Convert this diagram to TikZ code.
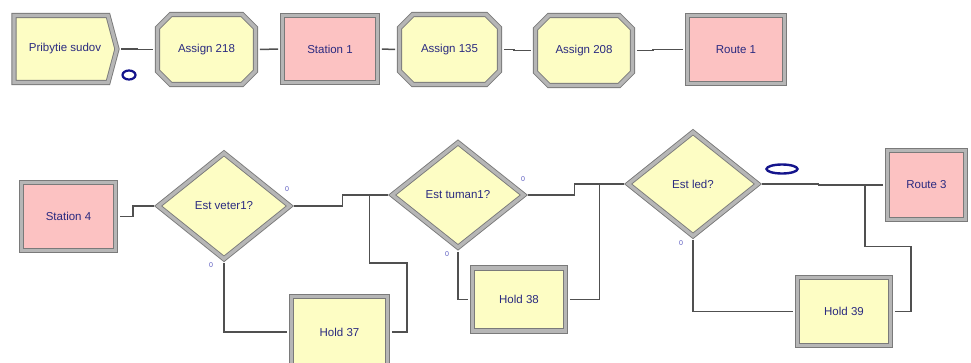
\documentclass[tikz,border=0pt]{standalone}
\usepackage{fontspec}
\setmainfont{Liberation Sans}
\usetikzlibrary{shapes.geometric,shapes.misc,shapes.symbols,calc}
\definecolor{modfill}{HTML}{FDFDC4}
\definecolor{stnfill}{HTML}{FCC2C2}
\definecolor{frameout}{HTML}{7A7A7A}
\definecolor{framein}{HTML}{B6B6B6}
\definecolor{labelblue}{HTML}{2A2A80}
\definecolor{exitblue}{HTML}{5A5AC0}
\definecolor{linkgray}{HTML}{505050}
\definecolor{animblue}{HTML}{14148C}
\begin{document}
\begin{tikzpicture}[x=1pt,y=-1pt,
  frame/.style={draw=frameout, double=framein, double distance=3.4pt,
    line width=0.9pt, text=labelblue, inner sep=0pt,
    font=\fontsize{11.5}{13}\selectfont},
  createbox/.style={frame, signal, signal to=east, signal from=nowhere,
    signal pointer angle=150, fill=modfill},
  assignbox/.style={frame, chamfered rectangle, chamfered rectangle xsep=8pt,
    chamfered rectangle ysep=8pt, fill=modfill},
  stationbox/.style={frame, rectangle, fill=stnfill},
  holdbox/.style={frame, rectangle, fill=modfill},
  decidebox/.style={frame, diamond, fill=modfill},
  exitlabel/.style={text=exitblue, font=\fontsize{7}{8}\selectfont, inner sep=0pt},
  animvar/.style={ellipse, draw=animblue, fill=white, inner sep=0pt},
  conn/.style={draw=linkgray, line width=1.5pt, shorten <=4pt, shorten >=4pt},
  merge/.style={draw=linkgray, line width=1.5pt, shorten <=4pt},
]
\useasboundingbox[fill=white] (0,0) rectangle (971,362);

% ---- arrival line ----
\node[createbox, minimum width=103pt, minimum height=67pt] (prib) at (61,49) {\hspace*{8pt}Pribytie sudov};
\node[assignbox, minimum width=98pt, minimum height=70pt] (a218) at (206.5,49.5) {Assign 218};
\node[stationbox, minimum width=95pt, minimum height=67pt] (st1) at (330,49) {Station 1};
\node[assignbox, minimum width=100pt, minimum height=70pt] (a135) at (449.5,49.5) {Assign 135};
\node[assignbox, minimum width=97pt, minimum height=70pt] (a208) at (584,50.5) {Assign 208};
\node[stationbox, minimum width=97pt, minimum height=68pt] (r1) at (736,49.5) {Route 1};
\node[animvar, minimum width=13pt, minimum height=9pt, line width=2.2pt] (cnt1) at (129,75) {};

\draw[conn] (prib.east) -- ++(20,0) |- (a218.west);
\draw[conn] (a218.east) -- (st1.west);
\draw[conn] (st1.east) -- (a135.west);
\draw[conn] (a135.east) -- ++(14,0) |- (a208.west);
\draw[conn] (a208.east) -- ++(20,0) |- (r1.west);

% ---- weather checks ----
\node[stationbox, minimum width=94pt, minimum height=68pt] (st4) at (68.5,216.5) {Station 4};
\node[decidebox, minimum width=132pt, minimum height=106pt] (dv) at (224,206) {Est veter1?};
\node[decidebox, minimum width=132pt, minimum height=105pt] (dt) at (458,195) {Est tuman1?};
\node[decidebox, minimum width=130pt, minimum height=104pt] (dl) at (693,184) {Est led?};
\node[holdbox, minimum width=96pt, minimum height=71pt] (h37) at (339.5,332) {Hold 37};
\node[holdbox, minimum width=93pt, minimum height=63pt] (h38) at (519,299.5) {Hold 38};
\node[holdbox, minimum width=93pt, minimum height=68pt] (h39) at (844,311.5) {Hold 39};
\node[stationbox, minimum width=78pt, minimum height=69pt] (r3) at (926.5,185) {Route 3};

\node[exitlabel] (dvt) at (287,189) {0};
\node[exitlabel] (dvf) at (211,265) {0};
\node[exitlabel] (dtt) at (523,179) {0};
\node[exitlabel] (dtf) at (447,254) {0};
\node[exitlabel] (dlf) at (681,243) {0};
\node[animvar, minimum width=31pt, minimum height=9pt, line width=2.4pt] (cnt2) at (782,169) {};

% junctions where the hold lines rejoin
\coordinate (j1) at ($(dt.west)+(-22,0)$);
\coordinate (j2) at ($(dl.west)+(-28,0)$);
\coordinate (j3) at ($(r3.west)+(-22,0)$);

\draw[conn] (st4.east) -- ++(17,0) |- (dv.west);
\draw[conn] (dv.east) -- ++(52,0) |- (dt.west);
\draw[conn] (dv.south) |- (h37.west);
\draw[merge] (h37.east) -| ($(h37.east)+(19,-69)$) -| (j1);
\draw[conn] (dt.east) -- ++(50,0) |- (dl.west);
\draw[conn] (dt.south) |- (h38.west);
\draw[merge] (h38.east) -| (j2);
\draw[conn] (dl.east) -- ++(60,0) |- (r3.west);
\draw[conn] (dl.south) |- (h39.west);
\draw[merge] (h39.east) -| ($(h39.east)+(20,-65)$) -| (j3);
\end{tikzpicture}
\end{document}
